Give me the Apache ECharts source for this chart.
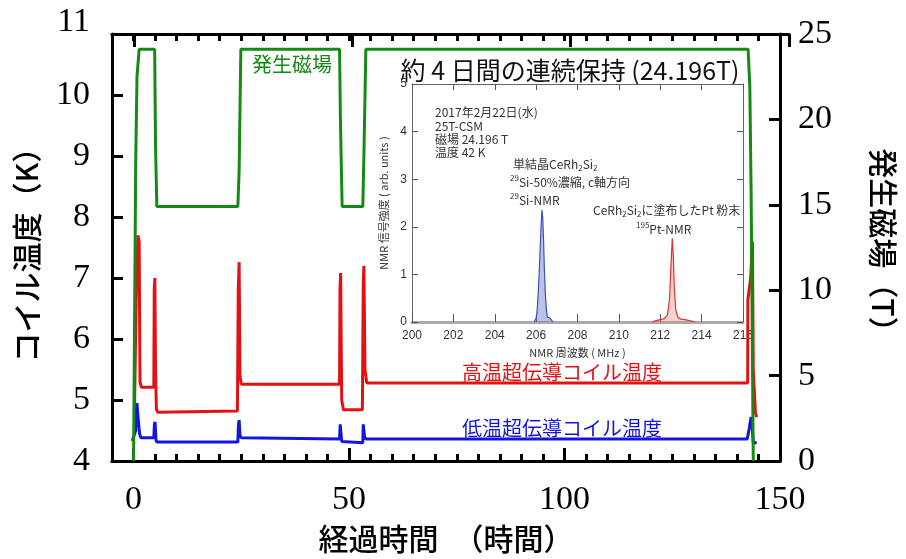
<!DOCTYPE html>
<html>
<head>
<meta charset="utf-8">
<script src="https://cdn.jsdelivr.net/npm/echarts@6/dist/echarts.min.js"></script>
<style>
  html, body { margin: 0; padding: 0; background: #fff; }
  #chart { width: 906px; height: 559px; }
</style>
</head>
<body>
<div id="chart"></div>
<script>
// 発生磁場 (T)
const fieldHours = [0, 0.5, 0.8, 1.3, 4.9, 5.1, 5.4, 24.2, 24.5, 24.8, 24.9, 47.8, 48.0, 48.4, 53.2, 53.5, 53.9, 142.6, 143.0, 143.3, 143.8];
const fieldTesla = [0, 17.4, 22.5, 24.1, 24.1, 18.5, 14.9, 14.9, 17.0, 22.4, 24.1, 24.1, 20.0, 14.9, 14.9, 18.5, 24.1, 24.1, 21.9, 15.7, 0];

// 高温超伝導コイル温度 (K)
const hsHours = [0.2, 0.6, 1.0, 1.3, 1.5, 1.8, 4.7, 4.8, 4.95, 5.1, 5.3, 5.6, 24.1, 24.3, 24.5, 24.7, 25.0, 47.8, 47.9, 48.05, 48.3, 48.7, 53.1, 53.3, 53.45, 53.7, 54.1, 142.5, 142.55, 143.2, 143.6, 143.8, 144.3, 144.6];
const hsKelvin = [4.75, 6.6, 7.7, 7.6, 5.3, 5.21, 5.21, 6.8, 7.0, 5.5, 4.85, 4.8, 4.82, 6.8, 7.26, 5.4, 5.26, 5.26, 6.8, 7.08, 5.0, 4.84, 4.84, 6.9, 7.2, 5.5, 5.28, 5.28, 6.64, 7.0, 7.6, 5.5, 4.79, 4.72];

// 低温超伝導コイル温度 (K)
const lsHours = [-0.3, 0.5, 0.8, 1.0, 1.4, 1.7, 4.7, 4.85, 5.0, 5.2, 5.4, 24.2, 24.35, 24.5, 24.7, 25.0, 47.8, 47.95, 48.05, 48.3, 48.5, 53.2, 53.3, 53.4, 53.6, 53.9, 142.4, 142.9, 143.3, 143.5, 143.8, 144.6];
const lsKelvin = [4.33, 4.5, 4.95, 4.75, 4.45, 4.38, 4.38, 4.6, 4.64, 4.35, 4.31, 4.31, 4.6, 4.67, 4.42, 4.38, 4.36, 4.6, 4.62, 4.32, 4.30, 4.30, 4.6, 4.62, 4.4, 4.36, 4.36, 4.55, 4.72, 4.6, 4.3, 4.3];

// 挿入図: NMR スペクトル
const siFreq = [205.9, 205.96, 206.0, 206.05, 206.1, 206.15, 206.2, 206.25, 206.28, 206.32, 206.36, 206.4, 206.45, 206.5, 206.55, 206.6, 206.65, 206.7, 206.76, 206.82];
const siSignal = [0, 0.02, 0.08, 0.25, 0.6, 1.05, 1.6, 2.1, 2.35, 2.2, 1.7, 1.1, 0.55, 0.25, 0.1, 0.06, 0.09, 0.07, 0.03, 0];
const ptFreq = [211.6, 211.8, 212.0, 212.2, 212.35, 212.45, 212.52, 212.58, 212.63, 212.68, 212.75, 212.85, 213.0, 213.2, 213.4, 213.7];
const ptSignal = [0, 0.03, 0.05, 0.07, 0.15, 0.5, 1.2, 1.76, 1.4, 0.7, 0.25, 0.1, 0.06, 0.05, 0.03, 0];

const hourLabels = [0, 50, 100, 150];

const GREEN = '#138a13';
const RED = '#e31212';
const BLUE = '#1414e0';
const SERIF = '"Liberation Serif", "DejaVu Serif", serif';
const JP = '"Noto Sans CJK JP", "Noto Sans", sans-serif';

function pairs(xs, ys) {
  return xs.map((x, i) => [x, ys[i]]);
}

function frameLine() {
  return { show: true, onZero: false, lineStyle: { color: '#000', width: 3 } };
}
function frameTick(len) {
  return { show: true, inside: true, length: len, lineStyle: { color: '#000', width: 3 } };
}

// 挿入図の枠
function insetTick() {
  return { show: true, inside: true, length: 6, lineStyle: { color: '#555', width: 1 } };
}
function insetLine() {
  return { show: true, onZero: false, lineStyle: { color: '#666', width: 1 } };
}
const insetLabel = { color: '#333', fontFamily: '"Liberation Sans", Arial, sans-serif', fontSize: 12 };

const sup = { fontSize: 8, lineHeight: 8, verticalAlign: 'top', fill: '#333', fontFamily: JP };
const sub = { fontSize: 8, lineHeight: 8, verticalAlign: 'bottom', fill: '#333', fontFamily: JP };
const base = { fontSize: 12, lineHeight: 16, fill: '#333', fontFamily: JP };

function note(x, y, text, extra) {
  return {
    type: 'text', x: x, y: y,
    style: Object.assign({
      text: text, font: '12px ' + JP, fill: '#333',
      align: 'left', verticalAlign: 'middle',
      textAlign: 'left', textVerticalAlign: 'middle'
    }, extra || {})
  };
}

function richNote(x, y, text) {
  return note(x, y, text, { rich: { b: base, sup: sup, sub: sub } });
}

function label(x, y, text, color, size) {
  return {
    type: 'text', x: x, y: y,
    style: {
      text: text, font: size + 'px ' + JP, fill: color,
      align: 'center', verticalAlign: 'middle',
      textAlign: 'center', textVerticalAlign: 'middle'
    }
  };
}

const nameStyle = { color: '#000', fontFamily: JP, fontSize: 30, fontWeight: 500 };

const chart = echarts.init(document.getElementById('chart'));

chart.setOption({
  animation: false,
  grid: [
    { left: 112, top: 34, width: 677, height: 427 },
    { left: 412, top: 84, width: 331, height: 238 },
    // 上辺の主目盛りだけを描く重ね用グリッド
    { left: 112, top: 34, width: 677, height: 427 }
  ],
  xAxis: [
    {
      type: 'value', gridIndex: 0, position: 'bottom', min: -5, max: 150,
      axisLine: frameLine(),
      axisTick: Object.assign(frameTick(13), { customValues: hourLabels }),
      axisLabel: { customValues: hourLabels, margin: 22, color: '#000', fontFamily: SERIF, fontSize: 34 },
      splitLine: { show: false },
      name: '経過時間　（時間）', nameLocation: 'middle', nameGap: 63, nameTextStyle: nameStyle
    },
    {
      type: 'value', gridIndex: 0, position: 'bottom', min: -5, max: 150, interval: 5,
      axisLine: frameLine(), axisTick: frameTick(7),
      axisLabel: { show: false }, splitLine: { show: false }
    },
    {
      type: 'value', gridIndex: 0, position: 'top', min: -5, max: 150, interval: 5,
      axisLine: frameLine(), axisTick: frameTick(7),
      axisLabel: { show: false }, splitLine: { show: false }
    },
    {
      type: 'value', gridIndex: 1, position: 'bottom',
      min: 200, max: 216, interval: 2,
      axisLine: { show: true, onZero: false, lineStyle: { color: '#aaa', width: 3 } },
      axisTick: { show: true, inside: true, length: 8, lineStyle: { color: '#555', width: 1 } },
      axisLabel: Object.assign({ margin: 8 }, insetLabel),
      splitLine: { show: false },
      name: 'NMR 周波数 ( MHz )', nameLocation: 'middle', nameGap: 25,
      nameTextStyle: { color: '#333', fontFamily: JP, fontSize: 11 }
    },
    {
      type: 'value', gridIndex: 1, position: 'top',
      min: 200, max: 216, interval: 2,
      axisLine: insetLine(), axisTick: insetTick(), axisLabel: { show: false }, splitLine: { show: false }
    },
    {
      type: 'value', gridIndex: 2, position: 'top', min: -5, max: 150,
      axisLine: frameLine(),
      axisTick: Object.assign(frameTick(13), { customValues: hourLabels }),
      axisLabel: { show: false, customValues: hourLabels }, splitLine: { show: false }
    }
  ],
  yAxis: [
    {
      type: 'value', gridIndex: 0, position: 'left',
      min: 4, max: 11, interval: 1,
      axisLine: frameLine(), axisTick: frameTick(11),
      axisLabel: {
        margin: 22, color: '#000', fontFamily: SERIF, fontSize: 34,
        formatter: v => (v === 11 ? '{up|11}' : String(v)),
        rich: { up: { fontFamily: SERIF, fontSize: 34, color: '#000', padding: [0, 0, 24, 0] } }
      },
      splitLine: { show: false },
      name: 'コイル温度（K）', nameLocation: 'middle', nameGap: 70, nameTextStyle: nameStyle
    },
    {
      type: 'value', gridIndex: 0, position: 'right',
      min: 0, max: 25, interval: 5,
      axisLine: frameLine(), axisTick: frameTick(11),
      axisLabel: { margin: 18, color: '#000', fontFamily: SERIF, fontSize: 34 },
      splitLine: { show: false },
      name: '発生磁場（T）', nameLocation: 'middle', nameGap: 88, nameRotate: -90, nameTextStyle: nameStyle
    },
    {
      type: 'value', gridIndex: 1, position: 'left',
      min: 0, max: 5, interval: 1,
      axisLine: insetLine(), axisTick: insetTick(),
      axisLabel: Object.assign({ margin: 5 }, insetLabel),
      splitLine: { show: false },
      name: 'NMR 信号強度 ( arb. units )', nameLocation: 'middle', nameGap: 23,
      nameTextStyle: { color: '#333', fontFamily: JP, fontSize: 11 }
    },
    {
      type: 'value', gridIndex: 1, position: 'right',
      min: 0, max: 5, interval: 1,
      axisLine: insetLine(), axisTick: insetTick(), axisLabel: { show: false }, splitLine: { show: false }
    },
    {
      type: 'value', gridIndex: 2, position: 'left', min: 0, max: 1, show: false
    }
  ],
  series: [
    {
      name: '高温超伝導コイル温度', type: 'line', xAxisIndex: 0, yAxisIndex: 0,
      data: pairs(hsHours, hsKelvin), showSymbol: false,
      lineStyle: { color: RED, width: 3 }
    },
    {
      name: '低温超伝導コイル温度', type: 'line', xAxisIndex: 0, yAxisIndex: 0,
      data: pairs(lsHours, lsKelvin), showSymbol: false,
      lineStyle: { color: BLUE, width: 3 }
    },
    {
      name: '発生磁場', type: 'line', xAxisIndex: 0, yAxisIndex: 1,
      data: pairs(fieldHours, fieldTesla), showSymbol: false,
      lineStyle: { color: GREEN, width: 3 }
    },
    {
      name: '29Si-NMR', type: 'line', xAxisIndex: 3, yAxisIndex: 2,
      data: pairs(siFreq, siSignal), showSymbol: false,
      lineStyle: { color: '#3a55b5', width: 1.2 },
      areaStyle: { color: 'rgba(90, 110, 200, 0.6)' }
    },
    {
      name: '195Pt-NMR', type: 'line', xAxisIndex: 3, yAxisIndex: 2,
      data: pairs(ptFreq, ptSignal), showSymbol: false,
      lineStyle: { color: '#e8302a', width: 1.2 },
      areaStyle: { color: 'rgba(240, 110, 110, 0.45)' }
    }
  ],
  graphic: [
    label(292, 64, '発生磁場', GREEN, 20),
    label(562, 372, '高温超伝導コイル温度', RED, 20),
    label(562, 428, '低温超伝導コイル温度', BLUE, 20),
    label(570, 70, '約 4 日間の連続保持 (24.196T)', '#111', 25),
    note(435, 112, '2017年2月22日(水)'),
    note(435, 126, '25T-CSM'),
    note(435, 139, '磁場 24.196 T'),
    note(435, 152, '温度 42 K'),
    richNote(513, 164, '{b|単結晶CeRh}{sub|2}{b|Si}{sub|2}'),
    richNote(510, 182, '{sup|29}{b|Si-50%濃縮, c軸方向}'),
    richNote(510, 200, '{sup|29}{b|Si-NMR}'),
    richNote(593, 210, '{b|CeRh}{sub|2}{b|Si}{sub|2}{b|に塗布したPt 粉末}'),
    richNote(636, 229, '{sup|195}{b|Pt-NMR}')
  ]
});
</script>
</body>
</html>
